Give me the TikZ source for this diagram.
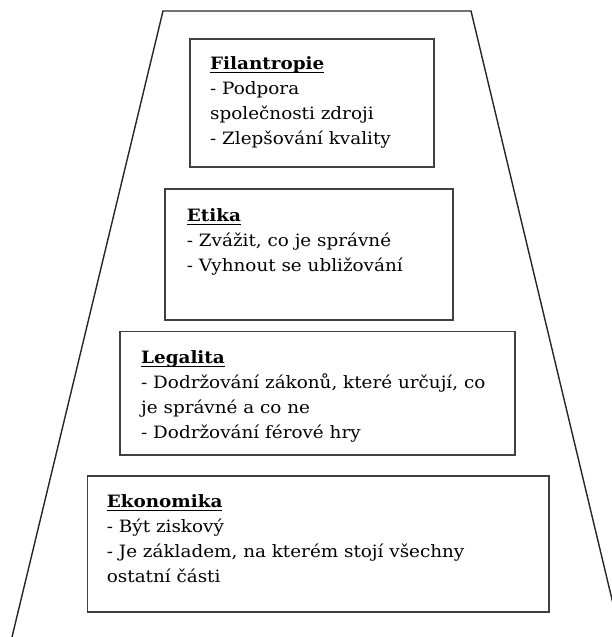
\documentclass[tikz,border=0pt]{standalone}
\usepackage{fontspec}
\setmainfont[FakeStretch=1.08]{DejaVu Serif}
\newcommand\myul[1]{\setbox0\hbox{#1}\rlap{\rule[-3.8pt]{\wd0}{1.3pt}}\box0}
\newcommand\ttl[1]{\rule{0pt}{16pt}\myul{\textbf{#1}}}
\begin{document}
\begin{tikzpicture}[x=1pt,y=-1pt,
  box/.style={draw=black!75, line width=1.6pt, anchor=north west, inner sep=0pt},
  txt/.style={anchor=north west, align=left, inner sep=0pt, font=\fontsize{17}{25}\selectfont},
  edge/.style={draw=black!85, line width=1.4pt}]
\useasboundingbox (0,0) rectangle (612,637);
% trapezoid outline
\coordinate (bl) at (12,637);
\coordinate (tl) at (163,11);
\coordinate (tr) at (471,11);
\coordinate (br) at (621,637);
\draw[edge, line join=miter] (bl) -- (tl) -- (tr) -- (br);
% boxes
\node[box, minimum width=244pt, minimum height=128pt] (fil) at (189.3,38.3) {};
\node[box, minimum width=288pt, minimum height=131pt] (eti) at (164.3,188.3) {};
\node[box, minimum width=395pt, minimum height=123.6pt] (leg) at (119.3,330.7) {};
\node[box, minimum width=461.6pt, minimum height=136pt] (eko) at (86.7,475) {};
% texts (first baseline = y + 16)
\node[txt] (filt) at (210,53) {\ttl{Filantropie}\\- Podpora\\společnosti zdroji\\- Zlepšování kvality};
\node[txt] (etit) at (186.7,205.3) {\ttl{Etika}\\- Zvážit, co je správné\\- Vyhnout se ubližování};
\node[txt] (legt) at (141,347.3) {\ttl{Legalita}\\- Dodržování zákonů, které určují, co\\je správné a co ne\\- Dodržování férové hry};
\node[txt] (ekot) at (106.7,491.3) {\ttl{Ekonomika}\\- Být ziskový\\- Je základem, na kterém stojí všechny\\ostatní části};
\end{tikzpicture}
\end{document}
